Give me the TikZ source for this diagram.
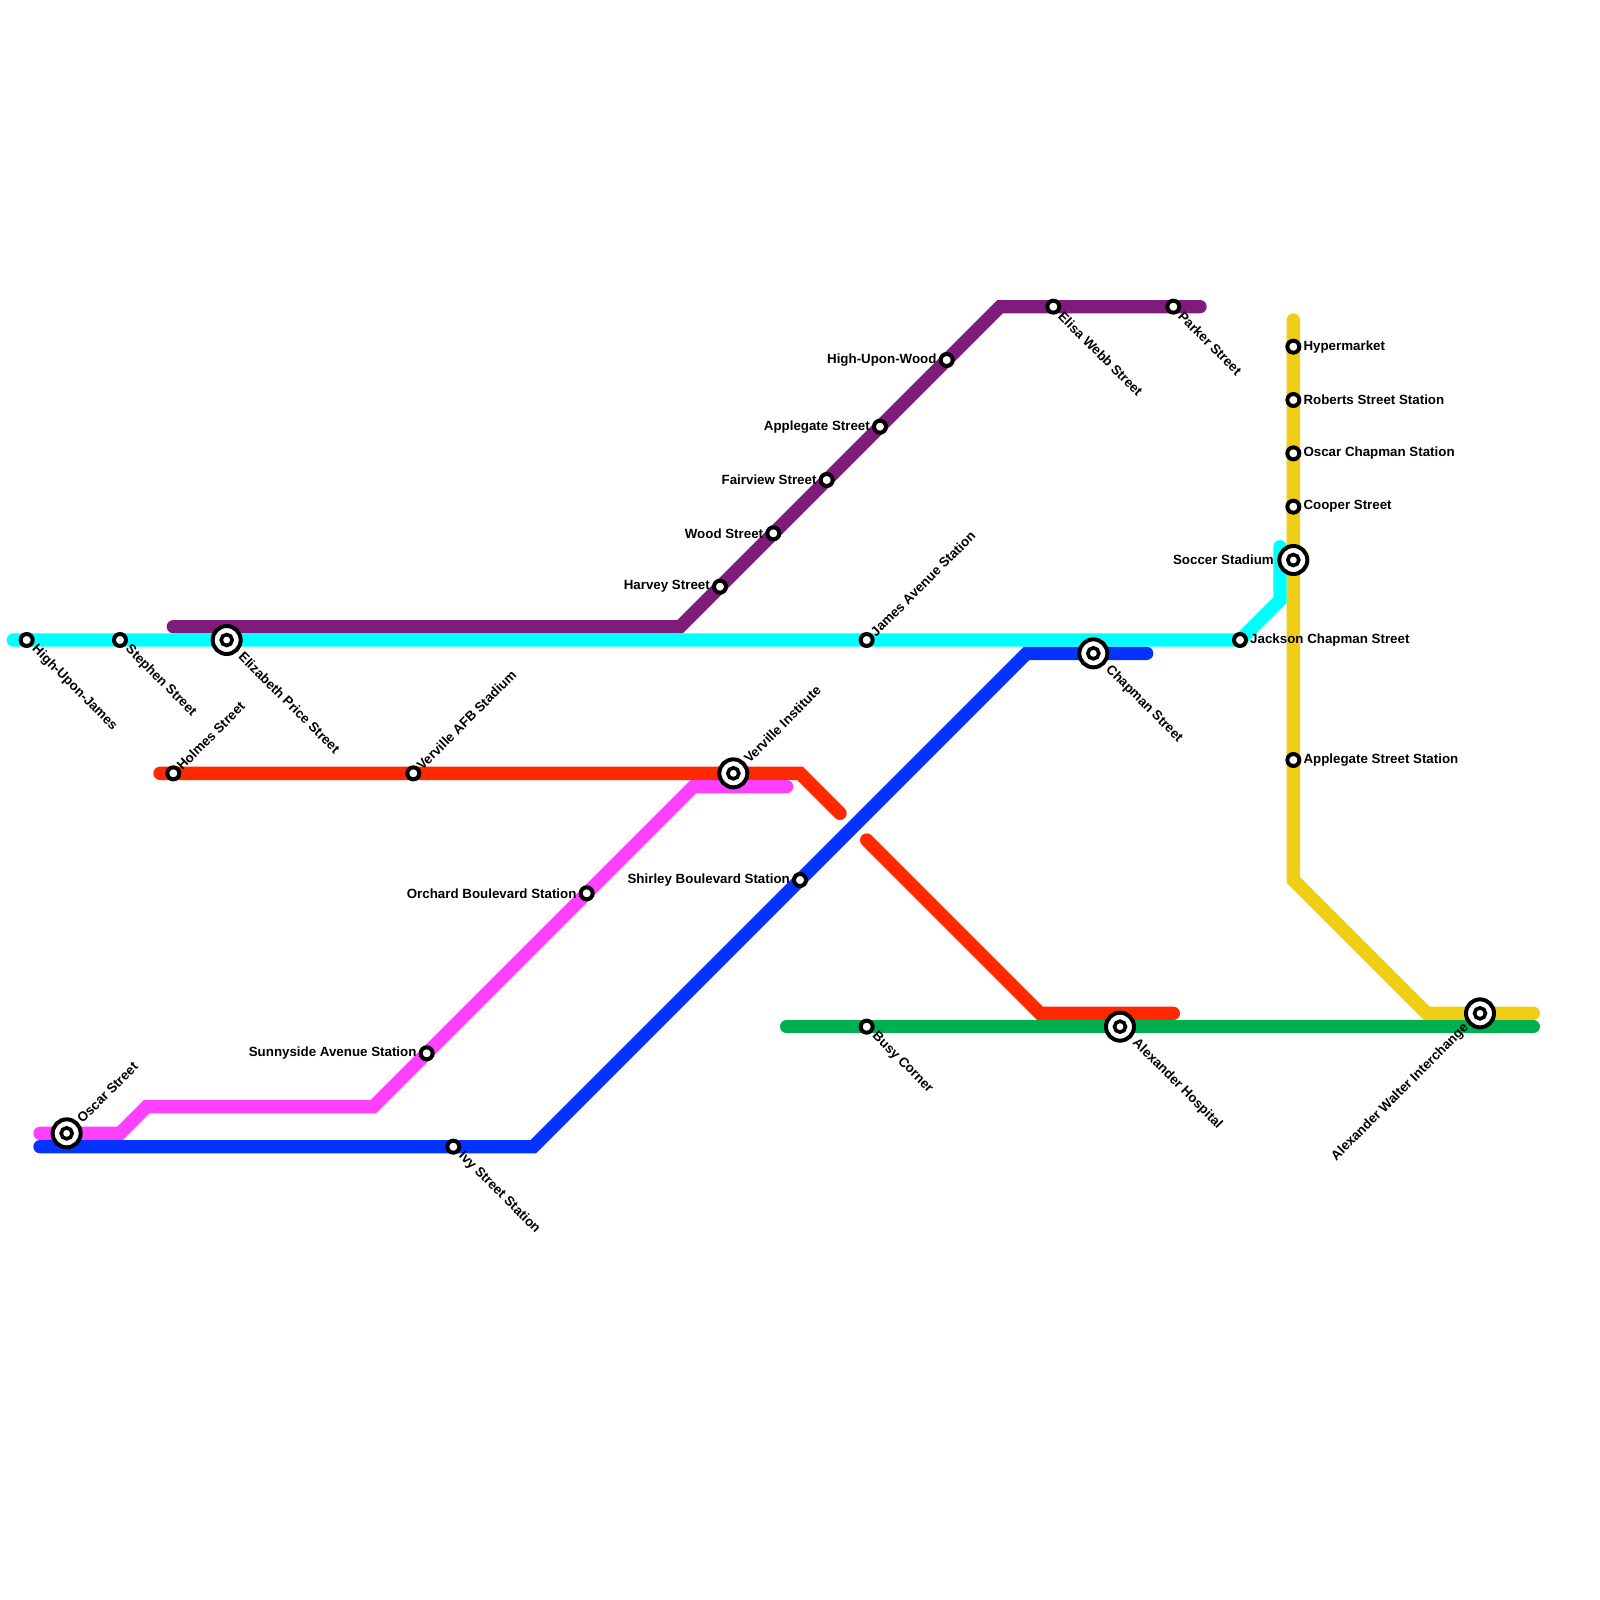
\documentclass[tikz,border=0pt]{standalone}
\usepackage{fontspec}
\setmainfont{Liberation Sans}
\definecolor{lcyan}{HTML}{00FFFF}
\definecolor{lpurple}{HTML}{7F1B7B}
\definecolor{lred}{HTML}{FF2900}
\definecolor{lpink}{HTML}{FF40FF}
\definecolor{lyellow}{HTML}{F0CE15}
\definecolor{lgreen}{HTML}{00B050}
\definecolor{lblue}{HTML}{0433FF}
\tikzset{
  metro/.style={line width=13.333pt,line cap=round,line join=miter},
  stn/.style={circle,draw=black,fill=white,line width=4pt,minimum size=12pt,inner sep=0pt,outer sep=0pt},
  ichg/.style={circle,draw=black,fill=white,line width=4pt,minimum size=28pt,inner sep=0pt,outer sep=0pt},
  ichgdot/.style={circle,draw=black,fill=white,line width=3.6pt,minimum size=11pt,inner sep=0pt,outer sep=0pt},
  lab/.style={font=\fontsize{13.33pt}{15pt}\selectfont\bfseries,inner sep=0pt,text=black},
  lr/.style={lab,anchor=west},
  ll/.style={lab,anchor=east},
  ldn/.style={lab,anchor=west,rotate=-45},
  lup/.style={lab,anchor=west,rotate=45},
  lupb/.style={lab,anchor=east,rotate=45}
}
\begin{document}
\begin{tikzpicture}[x=13.3333pt,y=-13.3333pt]
\useasboundingbox[fill=white] (0,0) rectangle (120,120);
% coordinates of the line ends and bends
\coordinate (c0) at (1,48); \coordinate (c1) at (93,48); \coordinate (c2) at (96,45); \coordinate (c3) at (96,41);
\coordinate (p0) at (13,47); \coordinate (p1) at (51,47); \coordinate (p2) at (75,23); \coordinate (p3) at (90,23);
\coordinate (r0) at (12,58); \coordinate (r1) at (60,58); \coordinate (r2) at (63,61);
\coordinate (r3) at (65,63); \coordinate (r4) at (78,76); \coordinate (r5) at (88,76);
\coordinate (m0) at (3,85); \coordinate (m1) at (9,85); \coordinate (m2) at (11,83); \coordinate (m3) at (28,83); \coordinate (m4) at (52,59); \coordinate (m5) at (59,59);
\coordinate (b0) at (3,86); \coordinate (b1) at (40,86); \coordinate (b2) at (77,49); \coordinate (b3) at (86,49);
\coordinate (y0) at (97,24); \coordinate (y1) at (97,66); \coordinate (y2) at (107,76); \coordinate (y3) at (115,76);
\coordinate (g0) at (59,77); \coordinate (g1) at (115,77);
% lines
\draw[metro,lpurple] (p0) -- (p1) -- (p2) -- (p3);
\draw[metro,lred] (r0) -- (r1) -- (r2);
\draw[metro,lred] (r3) -- (r4) -- (r5);
\draw[metro,lpink] (m0) -- (m1) -- (m2) -- (m3) -- (m4) -- (m5);
\draw[metro,lyellow] (y0) -- (y1) -- (y2) -- (y3);
\draw[metro,lgreen] (g0) -- (g1);
\draw[metro,lblue] (b0) -- (b1) -- (b2) -- (b3);
\draw[metro,lcyan] (c0) -- (c1) -- (c2) -- (c3);
% stations
\node[stn] (s1) at (2,48) {};
\node[stn] (s2) at (9,48) {};
\node[ichg] (s3) at (17,48) {}; \node[ichgdot] at (s3) {};
\node[stn] (s4) at (13,58) {};
\node[stn] (s5) at (31,58) {};
\node[ichg] (s6) at (55,58) {}; \node[ichgdot] at (s6) {};
\node[stn] (s7) at (65,48) {};
\node[ichg] (s8) at (82,49) {}; \node[ichgdot] at (s8) {};
\node[stn] (s9) at (93,48) {};
\node[stn] (s10) at (54,44) {};
\node[stn] (s11) at (58,40) {};
\node[stn] (s12) at (62,36) {};
\node[stn] (s13) at (66,32) {};
\node[stn] (s14) at (71,27) {};
\node[stn] (s15) at (79,23) {};
\node[stn] (s16) at (88,23) {};
\node[stn] (s17) at (97,26) {};
\node[stn] (s18) at (97,30) {};
\node[stn] (s19) at (97,34) {};
\node[stn] (s20) at (97,38) {};
\node[ichg] (s21) at (97,42) {}; \node[ichgdot] at (s21) {};
\node[stn] (s22) at (97,57) {};
\node[stn] (s23) at (44,67) {};
\node[stn] (s24) at (32,79) {};
\node[stn] (s25) at (60,66) {};
\node[stn] (s26) at (34,86) {};
\node[ichg] (s27) at (5,85) {}; \node[ichgdot] at (s27) {};
\node[stn] (s28) at (65,77) {};
\node[ichg] (s29) at (84,77) {}; \node[ichgdot] at (s29) {};
\node[ichg] (s30) at (111,76) {}; \node[ichgdot] at (s30) {};
% labels
\node[ldn] (t1) at ([shift={(.55,.55)}]s1) {High-Upon-James};
\node[ldn] (t2) at ([shift={(.55,.55)}]s2) {Stephen Street};
\node[ldn] (t3) at ([shift={(1.08,1.08)}]s3) {Elizabeth Price Street};
\node[lup] (t4) at ([shift={(.42,-.42)}]s4) {Holmes Street};
\node[lup] (t5) at ([shift={(.42,-.42)}]s5) {Verville AFB Stadium};
\node[lup] (t6) at ([shift={(.95,-.95)}]s6) {Verville Institute};
\node[lup] (t7) at ([shift={(.45,-.45)}]s7) {James Avenue Station};
\node[ldn] (t8) at ([shift={(1.08,1.08)}]s8) {Chapman Street};
\node[lr] (t9) at ([shift={(.75,0)}]s9) {Jackson Chapman Street};
\node[ll] (t10) at ([shift={(-.75,0)}]s10) {Harvey Street};
\node[ll] (t11) at ([shift={(-.75,0)}]s11) {Wood Street};
\node[ll] (t12) at ([shift={(-.75,0)}]s12) {Fairview Street};
\node[ll] (t13) at ([shift={(-.75,0)}]s13) {Applegate Street};
\node[ll] (t14) at ([shift={(-.75,0)}]s14) {High-Upon-Wood};
\node[ldn] (t15) at ([shift={(.55,.55)}]s15) {Elisa Webb Street};
\node[ldn] (t16) at ([shift={(.55,.55)}]s16) {Parker Street};
\node[lr] (t17) at ([shift={(.75,0)}]s17) {Hypermarket};
\node[lr] (t18) at ([shift={(.75,0)}]s18) {Roberts Street Station};
\node[lr] (t19) at ([shift={(.75,0)}]s19) {Oscar Chapman Station};
\node[lr] (t20) at ([shift={(.75,0)}]s20) {Cooper Street};
\node[ll] (t21) at ([shift={(-1.45,0)}]s21) {Soccer Stadium};
\node[lr] (t22) at ([shift={(.75,0)}]s22) {Applegate Street Station};
\node[ll] (t23) at ([shift={(-.75,0)}]s23) {Orchard Boulevard Station};
\node[ll] (t24) at ([shift={(-.75,0)}]s24) {Sunnyside Avenue Station};
\node[ll] (t25) at ([shift={(-.75,0)}]s25) {Shirley Boulevard Station};
\node[ldn] (t26) at ([shift={(.55,.55)}]s26) {Ivy Street Station};
\node[lup] (t27) at ([shift={(.95,-.95)}]s27) {Oscar Street};
\node[ldn] (t28) at ([shift={(.55,.55)}]s28) {Busy Corner};
\node[ldn] (t29) at ([shift={(1.08,1.08)}]s29) {Alexander Hospital};
\node[lupb] (t30) at ([shift={(-1.0,.95)}]s30) {Alexander Walter Interchange};
\end{tikzpicture}
\end{document}
